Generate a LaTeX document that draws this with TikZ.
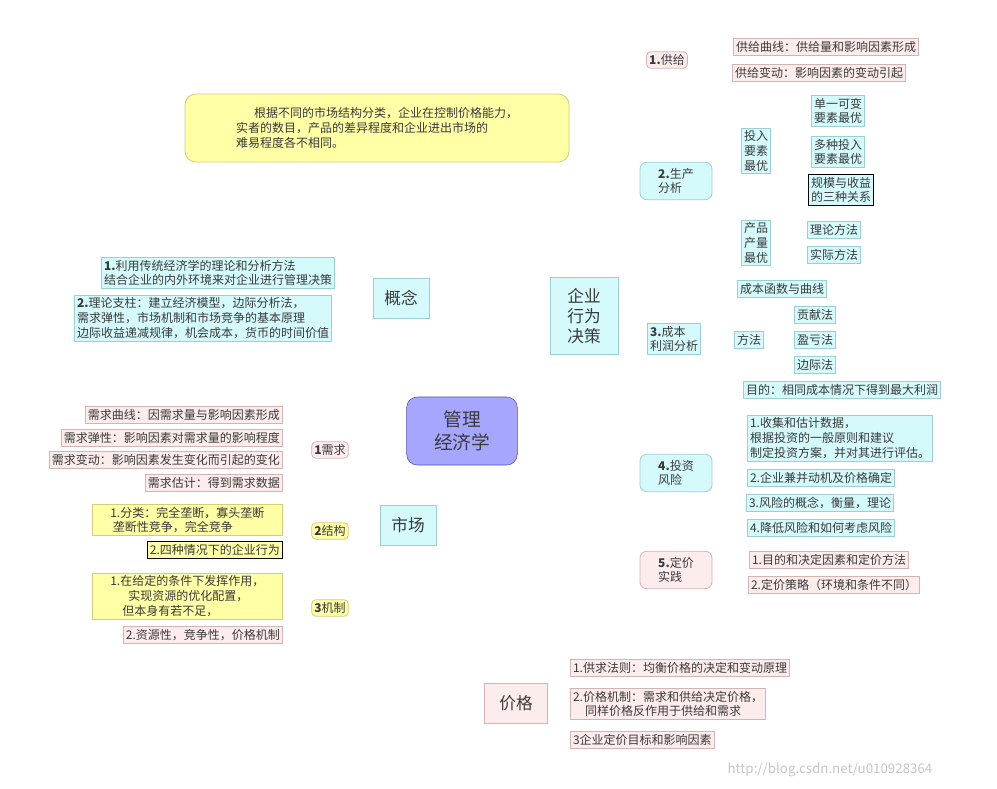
\documentclass[tikz,border=0pt]{standalone}
\usepackage{fontspec}
\setmainfont{Noto Sans CJK SC}
\usetikzlibrary{backgrounds,arrows.meta}
\definecolor{pkf}{HTML}{FDECEC}\definecolor{pkd}{HTML}{D2B4B4}
\definecolor{cyf}{HTML}{D4FAFC}\definecolor{cyd}{HTML}{9CCFD2}
\definecolor{yef}{HTML}{FFFFA6}\definecolor{yed}{HTML}{D4CC78}
\definecolor{rd}{HTML}{E0505C}\definecolor{ln}{HTML}{C4C4C4}
\definecolor{tx}{HTML}{3A3A3A}
\tikzset{
 bx/.style={draw, line width=0.6pt, inner sep=2pt, align=left, text=tx, font=\fontsize{9}{11}\selectfont, anchor=center},
 pk/.style={bx, fill=pkf, draw=pkd},
 cy/.style={bx, fill=cyf, draw=cyd},
 ye/.style={bx, fill=yef, draw=yed},
 big/.style={font=\fontsize{12.5}{15}\selectfont},
 tr/.style={draw=ln, line width=0.8pt, rounded corners=4pt},
 mn/.style={draw=ln!80!black, line width=1.3pt},
 rda/.style={draw=rd, line width=1.3pt, dashed, dash pattern=on 5pt off 3pt, -{Triangle[length=8pt,width=6pt]}},
}
\begin{document}
\begin{tikzpicture}[x=0.75pt,y=-0.75pt]
\useasboundingbox (0,0) rectangle (997,789);
\fill[white] (0,0) rectangle (997,789);
% center
\node[draw=blue!40!gray, fill=blue!35!white, rounded corners=8pt, minimum width=83pt, minimum height=51pt, font=\fontsize{14}{17}\selectfont, align=center, text=tx] (c) at (462,431) {管理\\经济学};
\node[ye, rounded corners=8pt, minimum width=288pt, minimum height=51pt, align=left] (note) at (377,128) {\hspace{1.5em}根据不同的市场结构分类，企业在控制价格能力，\\ 实者的数目，产品的差异程度和企业进出市场的\\ 难易程度各不相同。};
\node[cy,big, minimum width=42pt, minimum height=30pt] (gn) at (401,298) {概念};
\node[cy,big, minimum width=51pt, minimum height=58pt, align=left] (qy) at (584,316) {企业\\行为\\决策};
\node[cy,big, minimum width=42pt, minimum height=30pt] (sc) at (408,525) {市场};
\node[pk,big, minimum width=47pt, minimum height=30pt] (jg) at (516,703) {价格};
% concept
\node[cy] (g1) at (218,273) {\textbf{1.}利用传统经济学的理论和分析方法\\结合企业的内外环境来对企业进行管理决策};
\node[cy] (g2) at (203,318) {\textbf{2.}理论支柱：建立经济模型，边际分析法，\\需求弹性，市场机制和市场竞争的基本原理\\边际收益递减规律，机会成本，货币的时间价值};
% enterprise
\node[pk, rounded corners=3pt] (s1) at (667,60) {\textbf{1.}供给};
\node[pk] (s11) at (826,47) {供给曲线：供给量和影响因素形成};
\node[pk] (s12) at (819,73) {供给变动：影响因素的变动引起};
\node[cy, rounded corners=5pt, minimum width=54pt, minimum height=28pt] (s2) at (676,181) {\textbf{2.}生产\\分析};
\node[cy] (s21) at (756,151) {投入\\要素\\最优};
\node[cy] (s22) at (756,243) {产品\\产量\\最优};
\node[cy] (s211) at (838,111) {单一可变\\要素最优};
\node[cy] (s212) at (838,152) {多种投入\\要素最优};
\node[bx, fill=cyf] (s213) at (841,190) {规模与收益\\的三种关系};
\node[cy] (s221) at (834,230) {理论方法};
\node[cy] (s222) at (834,255) {实际方法};
\node[cy] (s3) at (674,339) {\textbf{3.}成本\\利润分析};
\node[cy] (s31) at (782,289) {成本函数与曲线};
\node[cy] (s32) at (749,340) {方法};
\node[cy] (s321) at (815,315) {贡献法};
\node[cy] (s322) at (815,340) {盈亏法};
\node[cy] (s323) at (815,365) {边际法};
\node[cy] (s33) at (842,390) {目的：相同成本情况下得到最大利润};
\node[cy, rounded corners=5pt, minimum width=54pt, minimum height=28pt] (s4) at (676,473) {\textbf{4.}投资\\风险};
\node[cy] (s41) at (840,438) {1.收集和估计数据，\\根据投资的一般原则和建议\\制定投资方案，并对其进行评估。};
\node[cy] (s42) at (821,478) {2.企业兼并动机及价格确定};
\node[cy] (s43) at (820,503) {3.风险的概念，衡量，理论};
\node[cy] (s44) at (821,528) {4.降低风险和如何考虑风险};
\node[pk, rounded corners=5pt, minimum width=54pt, minimum height=28pt] (s5) at (676,570) {\textbf{5.}定价\\实践};
\node[pk] (s51) at (829,560) {1.目的和决定因素和定价方法};
\node[pk] (s52) at (834,585) {2.定价策略（环境和条件不同）};
% market
\node[pk, rounded corners=3pt] (m1) at (330,450) {\textbf{1}需求};
\node[ye, rounded corners=3pt] (m2) at (330,531) {\textbf{2}结构};
\node[ye, rounded corners=3pt] (m3) at (330,608) {\textbf{3}机制};
\node[pk, anchor=east] (m11) at (283,415) {需求曲线：因需求量与影响因素形成};
\node[pk, anchor=east] (m12) at (283,438) {需求弹性：影响因素对需求量的影响程度};
\node[pk, anchor=east] (m13) at (283,460) {需求变动：影响因素发生变化而引起的变化};
\node[pk, anchor=east] (m14) at (283,483) {需求估计：得到需求数据};
\node[ye, anchor=east, minimum width=143pt] (m21) at (283,520) {1.分类：完全垄断，寡头垄断\\\ 垄断性竞争，完全竞争};
\node[bx, fill=yef, anchor=east] (m22) at (283,550) {2.四种情况下的企业行为};
\node[ye, anchor=east, minimum width=143pt] (m31) at (283,596) {1.在给定的条件下发挥作用，\\\hspace{1.5em}实现资源的优化配置，\\\hspace{1em}但本身有若不足，};
\node[pk, anchor=east] (m32) at (283,635) {2.资源性，竞争性，价格机制};
% price
\node[pk, anchor=west] (p1) at (570,668) {1.供求法则：均衡价格的决定和变动原理};
\node[pk, anchor=west] (p2) at (570,704) {2.价格机制：需求和供给决定价格，\\\hspace{1em}同样价格反作用于供给和需求};
\node[pk, anchor=west] (p3) at (570,740) {3企业定价目标和影响因素};
\node[font=\fontsize{10}{12}\selectfont, text=gray!45] at (830,770) {http://blog.csdn.net/u010928364};
\begin{scope}[on background layer]
\draw[mn] (c.north) .. controls (460,330) and (445,298) .. (gn.east);
\draw[mn] (c.north) ++(10,0) .. controls (475,330) and (510,316) .. (qy.west);
\draw[mn] (c.south) .. controls (462,500) and (450,525) .. (sc.east);
% concept
\draw[tr] (gn.west) -- (360,298) |- (g1.east);
\draw[tr] (gn.west) -- (360,298) |- (g2.east);
% enterprise trunk
\foreach \n in {s1,s2,s3,s4,s5} \draw[tr] (qy.east) -- (640,316) |- (\n.west);
\foreach \n in {s11,s12} \draw[tr] (s1.east) -- (710,60) |- (\n.west);
\foreach \n in {s21,s22} \draw[tr] (s2.east) -- (728,181) |- (\n.west);
\foreach \n in {s211,s212,s213} \draw[tr] (s21.east) -- (797,151) |- (\n.west);
\foreach \n in {s221,s222} \draw[tr] (s22.east) -- (797,243) |- (\n.west);
\foreach \n in {s31,s32,s33} \draw[tr] (s3.east) -- (723,339) |- (\n.west);
\foreach \n in {s321,s322,s323} \draw[tr] (s32.east) -- (782,340) |- (\n.west);
\foreach \n in {s41,s42,s43,s44} \draw[tr] (s4.east) -- (728,473) |- (\n.west);
\foreach \n in {s51,s52} \draw[tr] (s5.east) -- (728,570) |- (\n.west);
% market
\foreach \n in {m1,m2,m3} \draw[tr] (sc.west) -- (362,525) |- (\n.east);
\foreach \n in {m11,m12,m13,m14} \draw[tr] (m1.west) -- (289,450) |- (\n.east);
\foreach \n in {m21,m22} \draw[tr] (m2.west) -- (289,531) |- (\n.east);
\foreach \n in {m31,m32} \draw[tr] (m3.west) -- (289,608) |- (\n.east);
\foreach \n in {p1,p2,p3} \draw[tr] (jg.east) -- (562,703) |- (\n.west);
% red dashed
\draw[rda, -] (m2.north east) .. controls (390,420) and (360,180) .. (note.south);
\draw[rda] (note.south) ++(30,0) .. controls (470,175) and (520,210) .. (qy.north west);
\draw[rda] (jg.north) ++(-8,0) -- (s1.south);
\draw[rda] (m1.south) -- (jg.north west);
\draw[rda] (m32.south west) ++(85,0) .. controls (160,690) and (200,740) .. (jg.west);
\draw[rda] (jg.north) ++(4,0) .. controls (530,640) and (570,630) .. (660,630) .. controls (740,630) and (745,615) .. (s5.south east);
\end{scope}
\end{tikzpicture}
\end{document}
